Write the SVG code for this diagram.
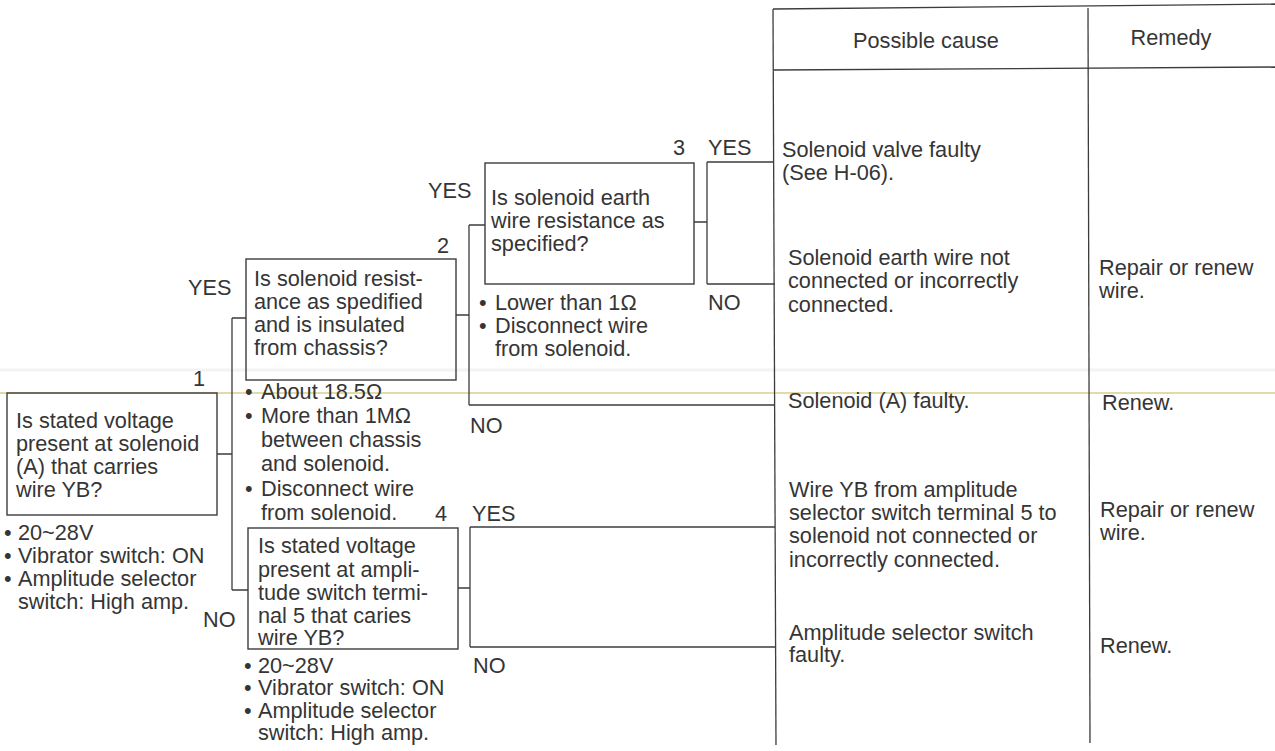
<svg xmlns="http://www.w3.org/2000/svg" width="1275" height="751" viewBox="0 0 1275 751">
  <style>
    text { font-family: "Liberation Sans", Arial, sans-serif; font-size: 21.7px; fill: #353535; }
    .box { fill: none; stroke: #3c3c3c; stroke-width: 1.4; }
    .ln { fill: none; stroke: #3c3c3c; stroke-width: 1.3; }
    .mid { text-anchor: middle; }
  </style>
  <rect width="1275" height="751" fill="#ffffff"/>
  <!-- faint sheet marks -->
  <line x1="0" y1="370" x2="1275" y2="370" stroke="#f3f3f3" stroke-width="3"/>
  <line x1="0" y1="393" x2="1275" y2="393" stroke="#d8cf8c" stroke-width="1.5"/>

  <!-- result table -->
  <g id="table">
    <path class="ln" d="M773,9 L1275,4"/>
    <path class="ln" d="M773,70 L1275,67"/>
    <path class="ln" d="M773,9 L776,745"/>
    <path class="ln" d="M1088,8 L1090,743"/>
    <text x="926" y="48" class="mid">Possible cause</text>
    <text x="1171" y="45" class="mid">Remedy</text>
    <text x="782" y="157">Solenoid valve faulty</text>
    <text x="782" y="180">(See H-06).</text>
    <text x="788" y="265">Solenoid earth wire not</text>
    <text x="788" y="288">connected or incorrectly</text>
    <text x="788" y="312">connected.</text>
    <text x="1099" y="275">Repair or renew</text>
    <text x="1099" y="298">wire.</text>
    <text x="788" y="408">Solenoid (A) faulty.</text>
    <text x="1102" y="410">Renew.</text>
    <text x="789" y="497">Wire YB from amplitude</text>
    <text x="789" y="520">selector switch terminal 5 to</text>
    <text x="789" y="543">solenoid not connected or</text>
    <text x="789" y="567">incorrectly connected.</text>
    <text x="1100" y="517">Repair or renew</text>
    <text x="1100" y="540">wire.</text>
    <text x="789" y="640">Amplitude selector switch</text>
    <text x="789" y="662">faulty.</text>
    <text x="1100" y="653">Renew.</text>
  </g>

  <!-- connectors -->
  <g id="connectors">
    <path class="ln" d="M217,454 H232 M232,318 V590 M232,318 H246 M232,590 H248"/>
    <path class="ln" d="M456,315 H469 M469,225 V405 M469,225 H485 M469,405 H775"/>
    <path class="ln" d="M694,222 H707 M707,162 V284 M707,162 H774 M707,284 H775"/>
    <path class="ln" d="M458,588 H470 M470,527 V647 M470,527 H775 M470,647 H776"/>
  </g>

  <!-- step 1 -->
  <g id="step1">
    <text x="193" y="386">1</text>
    <rect class="box" x="7" y="393" width="210" height="122"/>
    <text x="16" y="428">Is stated voltage</text>
    <text x="16" y="451">present at solenoid</text>
    <text x="16" y="474">(A) that carries</text>
    <text x="16" y="497">wire YB?</text>
    <text x="4" y="540">•<tspan x="18">20~28V</tspan></text>
    <text x="4" y="563">•<tspan x="18">Vibrator switch: ON</tspan></text>
    <text x="4" y="586">•<tspan x="18">Amplitude selector</tspan><tspan x="18" y="609">switch: High amp.</tspan></text>
    <text x="203" y="627">NO</text>
  </g>

  <!-- step 2 -->
  <g id="step2">
    <text x="437" y="253">2</text>
    <text x="188" y="295">YES</text>
    <rect class="box" x="246" y="259" width="210" height="121"/>
    <text x="254" y="286">Is solenoid resist-</text>
    <text x="254" y="309">ance as spedified</text>
    <text x="254" y="332">and is insulated</text>
    <text x="254" y="355">from chassis?</text>
    <text x="245" y="399">•<tspan x="261">About 18.5Ω</tspan></text>
    <text x="245" y="423">•<tspan x="261">More than 1MΩ</tspan><tspan x="261" y="447">between chassis</tspan><tspan x="261" y="471">and solenoid.</tspan></text>
    <text x="245" y="496">•<tspan x="261">Disconnect wire</tspan><tspan x="261" y="520">from solenoid.</tspan></text>
    <text x="470" y="433">NO</text>
  </g>

  <!-- step 3 -->
  <g id="step3">
    <text x="428" y="198">YES</text>
    <text x="673" y="155">3</text>
    <text x="708" y="155">YES</text>
    <rect class="box" x="485" y="163" width="209" height="121"/>
    <text x="491" y="205">Is solenoid earth</text>
    <text x="491" y="228">wire resistance as</text>
    <text x="491" y="251">specified?</text>
    <text x="479" y="310">•<tspan x="495">Lower than 1Ω</tspan></text>
    <text x="479" y="333">•<tspan x="495">Disconnect wire</tspan><tspan x="495" y="356">from solenoid.</tspan></text>
    <text x="708" y="310">NO</text>
  </g>

  <!-- step 4 -->
  <g id="step4">
    <text x="435" y="521">4</text>
    <text x="472" y="521">YES</text>
    <rect class="box" x="248" y="528" width="210" height="121"/>
    <text x="258" y="553">Is stated voltage</text>
    <text x="258" y="577">present at ampli-</text>
    <text x="258" y="600">tude switch termi-</text>
    <text x="258" y="623">nal 5 that caries</text>
    <text x="258" y="645">wire YB?</text>
    <text x="244" y="673">•<tspan x="258">20~28V</tspan></text>
    <text x="244" y="695">•<tspan x="258">Vibrator switch: ON</tspan></text>
    <text x="244" y="718">•<tspan x="258">Amplitude selector</tspan><tspan x="258" y="740">switch: High amp.</tspan></text>
    <text x="473" y="673">NO</text>
  </g>
</svg>
